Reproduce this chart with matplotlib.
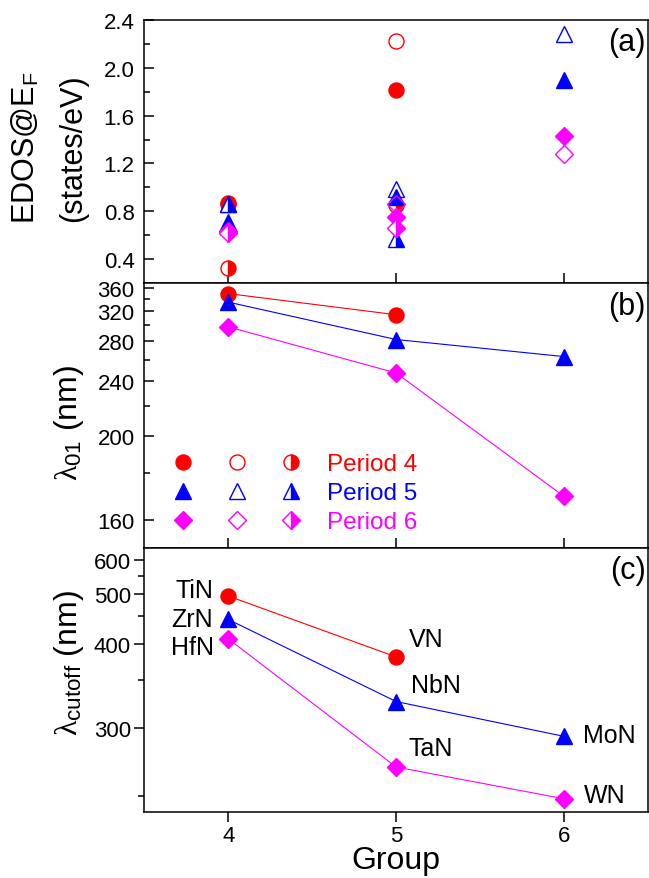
import numpy as np
import matplotlib
matplotlib.use('Agg')
import matplotlib.pyplot as plt
from matplotlib.ticker import FixedLocator, NullLocator, FormatStrFormatter
from matplotlib.legend_handler import HandlerTuple
from matplotlib.lines import Line2D

plt.rcParams['font.family'] = ['Liberation Sans', 'DejaVu Sans']
plt.rcParams['mathtext.fontset'] = 'custom'
plt.rcParams['mathtext.rm'] = 'Liberation Sans'
plt.rcParams['mathtext.it'] = 'Liberation Serif'
plt.rcParams['axes.linewidth'] = 1.1

# data
groups = np.array([4, 5, 6])
periods = ['Period 4', 'Period 5', 'Period 6']
colors = ['#ff0000', '#0000ff', '#ff00ff']
markers = ['o', '^', 'D']
msizes = [10.8, 12.0, 9.0]

# (a) EDOS at E_F, three values per nitride (filled / open / half)
edos_filled = [[0.87, 1.81, np.nan], [0.71, 0.92, 1.90], [0.64, 0.75, 1.43]]
edos_open = [[0.86, 2.22, np.nan], [0.86, 0.99, 2.28], [0.63, 0.86, 1.28]]
edos_half = [[0.33, 0.85, np.nan], [0.86, 0.57, np.nan], [0.62, 0.66, np.nan]]

# (b) lambda_01 (nm)
lam01 = [[350, 315, np.nan], [335, 282, 263], [298, 247, 169.5]]

# (c) lambda_cutoff (nm)
lamcut = [[495, 381, np.nan], [444, 326, 293], [409, 269, 248]]
names = [['TiN', 'VN', None], ['ZrN', 'NbN', 'MoN'], ['HfN', 'TaN', 'WN']]
# label offsets in points
name_off = [[(-11, 4), (9, 13), None], [(-11, 0), (11, 12), (14, 1)], [(-10, -6), (9, 14), (14, 3)]]

def recip_fwd(v):
    v = np.asarray(v, dtype=float)
    with np.errstate(divide='ignore', invalid='ignore'):
        return -1.0 / v

fig = plt.figure(figsize=(6.49, 8.79), dpi=100)
L = 144.3 / 649
W = (648 - 144.3) / 649
ax_a = fig.add_axes([L, 1 - 284.3 / 879, W, 263.6 / 879])
ax_b = fig.add_axes([L, 1 - 548.5 / 879, W, 264.2 / 879])
ax_c = fig.add_axes([L, 1 - 813.3 / 879, W, 264.8 / 879])

# panel (a)
for i in range(3):
    c = colors[i]
    ax_a.plot(groups, edos_filled[i], ls='none', marker=markers[i], ms=msizes[i], color=c, mec=c, mew=1.0)
    ax_a.plot(groups, edos_open[i], ls='none', marker=markers[i], ms=msizes[i], mfc='none', mec=c, mew=1.0)
    ax_a.plot(groups, edos_half[i], ls='none', marker=markers[i], ms=msizes[i], mfc=c, mec=c, mew=1.0,
              fillstyle='right', markerfacecoloralt='white')
ax_a.set_ylim(0.2, 2.4)
ax_a.yaxis.set_major_locator(FixedLocator([0.4, 0.8, 1.2, 1.6, 2.0, 2.4]))
ax_a.yaxis.set_minor_locator(FixedLocator([0.6, 1.0, 1.4, 1.8, 2.2]))
ax_a.yaxis.set_major_formatter(FormatStrFormatter('%.1f'))

# panel (b)
ax_b.set_yscale('function', functions=(recip_fwd, recip_fwd))
for i in range(3):
    c = colors[i]
    ax_b.plot(groups, lam01[i], '-', lw=0.8, color=c, marker=markers[i], ms=msizes[i], mec=c)
ax_b.set_ylim(150, 370)
ax_b.yaxis.set_major_locator(FixedLocator([160, 200, 240, 280, 320, 360]))
ax_b.yaxis.set_minor_locator(FixedLocator([180, 220, 260, 300, 340]))
ax_b.yaxis.set_major_formatter(FormatStrFormatter('%d'))

handles = []
for i in range(3):
    c = colors[i]
    h1 = Line2D([], [], ls='none', marker=markers[i], ms=msizes[i], color=c, mec=c, mew=1.0)
    h2 = Line2D([], [], ls='none', marker=markers[i], ms=msizes[i], mfc='none', mec=c, mew=1.0)
    h3 = Line2D([], [], ls='none', marker=markers[i], ms=msizes[i], mfc=c, mec=c, mew=1.0,
                fillstyle='right', markerfacecoloralt='white')
    handles.append((h1, h2, h3))
leg = ax_b.legend(handles, periods, handler_map={tuple: HandlerTuple(ndivide=None, pad=0)},
                  loc='upper left', bbox_to_anchor=(0.0226, 0.357), frameon=False, fontsize=17.5,
                  handlelength=6.67, handletextpad=0.37, borderpad=0, borderaxespad=0,
                  labelspacing=0.29)
for t, c in zip(leg.get_texts(), colors):
    t.set_color(c)

# panel (c)
ax_c.set_yscale('function', functions=(recip_fwd, recip_fwd))
for i in range(3):
    c = colors[i]
    ax_c.plot(groups, lamcut[i], '-', lw=0.8, color=c, marker=markers[i], ms=msizes[i], mec=c)
    for j in range(3):
        if names[i][j] is None:
            continue
        dx, dy = name_off[i][j]
        ax_c.annotate(names[i][j], (groups[j], lamcut[i][j]), xytext=(dx, dy), textcoords='offset points',
                      ha='right' if dx < 0 else 'left', va='center', fontsize=18)
ax_c.set_ylim(240, 650)
ax_c.yaxis.set_major_locator(FixedLocator([300, 400, 500, 600]))
ax_c.yaxis.set_minor_locator(FixedLocator([250, 350, 450, 550]))
ax_c.yaxis.set_major_formatter(FormatStrFormatter('%d'))

for ax, lab in zip([ax_a, ax_b, ax_c], ['(a)', '(b)', '(c)']):
    ax.set_xlim(3.5, 6.5)
    ax.set_xticks(groups)
    ax.xaxis.set_minor_locator(NullLocator())
    ax.text(0.996, 0.972, lab, transform=ax.transAxes, ha='right', va='top', fontsize=22)
    d = 'out' if ax is ax_c else 'in'
    ax.tick_params(which='both', direction=d, top=False, right=False, width=1.1, labelsize=16)
    ax.tick_params(which='major', length=7.5)
    ax.tick_params(which='minor', length=4)
    ax.tick_params(axis='y', pad=7 if ax is not ax_c else 2)
    if ax is not ax_c:
        ax.tick_params(labelbottom=False)
ax_c.tick_params(axis='x', pad=2)

ax_c.set_xlabel('Group', fontsize=23, labelpad=-1)

# y labels
fig.text(33 / 649, 1 - 148 / 879, r'EDOS@E$_\mathrm{F}$', rotation=90, rotation_mode='anchor',
         ha='center', va='baseline', fontsize=22)
fig.text(81 / 649, 1 - 148 / 879, '(states/eV)', rotation=90, rotation_mode='anchor',
         ha='center', va='baseline', fontsize=22)
fig.text(77 / 649, 1 - 423 / 879, r'$\lambda_{\mathrm{01}}$ (nm)', rotation=90, rotation_mode='anchor',
         ha='center', va='baseline', fontsize=23)
fig.text(77 / 649, 1 - 663 / 879, r'$\lambda_{\mathrm{cutoff}}$ (nm)', rotation=90, rotation_mode='anchor',
         ha='center', va='baseline', fontsize=23)

fig.savefig('out.png', dpi=100)
